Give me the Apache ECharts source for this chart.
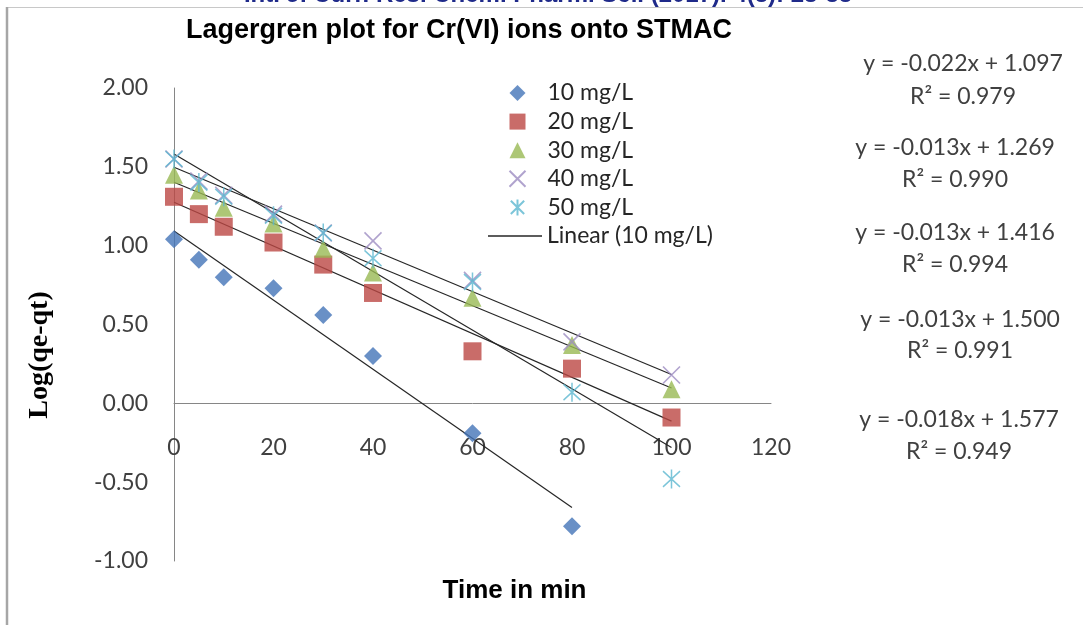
<!DOCTYPE html>
<html>
<head>
<meta charset="utf-8">
<script src="https://cdn.jsdelivr.net/npm/echarts@6/dist/echarts.min.js"></script>
<style>
html,body{margin:0;padding:0;background:#ffffff;}
#chart{width:1083px;height:625px;}
</style>
</head>
<body>
<div id="chart"></div>
<script>
// ---- data ----
const times = [0, 5, 10, 20, 30, 40, 60, 80, 100];
const seriesNames = ['10 mg/L', '20 mg/L', '30 mg/L', '40 mg/L', '50 mg/L'];
const conc10 = [1.04, 0.91, 0.80, 0.73, 0.56, 0.30, -0.19, -0.78];
const conc20 = [1.31, 1.20, 1.12, 1.02, 0.88, 0.70, 0.33, 0.22, -0.09];
const conc30 = [1.45, 1.35, 1.24, 1.14, 0.98, 0.83, 0.67, 0.37, 0.09];
const conc40 = [1.55, 1.41, 1.32, 1.20, 1.08, 1.03, 0.78, 0.39, 0.18];
const conc50 = [1.55, 1.40, 1.31, 1.19, 1.08, 0.92, 0.77, 0.07, -0.48];
const equationLabels = ['y = -0.022x + 1.097', 'y = -0.013x + 1.269', 'y = -0.013x + 1.416', 'y = -0.013x + 1.500', 'y = -0.018x + 1.577'];
const r2Labels = ['R² = 0.979', 'R² = 0.990', 'R² = 0.994', 'R² = 0.991', 'R² = 0.949'];
const trendLegendName = 'Linear (10 mg/L)';
const titleText = 'Lagergren plot for Cr(VI) ions onto STMAC';
const headerText = 'Int. J. Curr. Res. Chem. Pharm. Sci. (2017). 4(3): 28-33';
const xAxisTitle = 'Time in min';
const yAxisTitle = 'Log(qe-qt)';

// ---- styling / layout (kept separate from data) ----
const allValues = [conc10, conc20, conc30, conc40, conc50];
const markerStyles = [
  { symbol: 'diamond', size: 18, itemStyle: { color: '#4474B8' } },
  { symbol: 'rect', size: 18, itemStyle: { color: '#BC4744' } },
  { symbol: 'triangle', size: 18, itemStyle: { color: '#98B954' } },
  { symbol: 'path://M0,0L10,10M10,0L0,10', size: 17, itemStyle: { color: 'none', borderColor: '#9C8CC2', borderWidth: 1.6 } },
  { symbol: 'path://M0,1L10,11M10,1L0,11M5,0L5,12', size: [17, 19], itemStyle: { color: 'none', borderColor: '#5BB6D0', borderWidth: 1.6 } }
];
const eqLayout = [
  { x: 963, y1: 64, y2: 97 },
  { x: 955, y1: 148, y2: 180 },
  { x: 955, y1: 233, y2: 265 },
  { x: 960, y1: 320, y2: 351 },
  { x: 959, y1: 420, y2: 452 }
];
const bodyFont = 'Lato';
const bodySize = 23;

function linearFit(xs, ys) {
  const n = ys.length;
  let sx = 0, sy = 0;
  for (let i = 0; i < n; i++) { sx += xs[i]; sy += ys[i]; }
  const mx = sx / n, my = sy / n;
  let sxy = 0, sxx = 0;
  for (let i = 0; i < n; i++) { sxy += (xs[i] - mx) * (ys[i] - my); sxx += (xs[i] - mx) * (xs[i] - mx); }
  const m = sxy / sxx;
  return { m: m, b: my - m * mx, x0: xs[0], x1: xs[n - 1] };
}

const series = [];
allValues.forEach(function (vals, i) {
  const pts = vals.map(function (v, k) { return [times[k], v]; });
  series.push({
    name: seriesNames[i],
    type: 'scatter',
    data: pts,
    symbol: markerStyles[i].symbol,
    symbolSize: markerStyles[i].size,
    itemStyle: markerStyles[i].itemStyle,
    z: 3,
    silent: true
  });
});
allValues.forEach(function (vals, i) {
  const f = linearFit(times, vals);
  series.push({
    name: i === 0 ? trendLegendName : 'Linear (' + seriesNames[i] + ')',
    type: 'line',
    data: [[f.x0, f.b + f.m * f.x0], [f.x1, f.b + f.m * f.x1]],
    symbol: 'none',
    lineStyle: { color: '#262626', width: 1.2 },
    itemStyle: { color: '#262626' },
    z: 2,
    silent: true
  });
});

const graphics = [
  { type: 'line', shape: { x1: 8, y1: 7.5, x2: 1083, y2: 7.5 }, style: { stroke: '#c8c8c8', lineWidth: 1 } },
  { type: 'line', shape: { x1: 7, y1: 7, x2: 7, y2: 625 }, style: { stroke: '#a6a6a6', lineWidth: 2.5 } },
  { type: 'text', x: 548, y: 7, style: { text: headerText, align: 'center', verticalAlign: 'bottom', font: 'bold 24px "Liberation Sans"', fill: '#1F2A8A' } },
  { type: 'text', x: 459, y: 31, style: { text: titleText, align: 'center', verticalAlign: 'middle', font: 'bold 27px "Liberation Sans"', fill: '#000000' } },
  { type: 'text', x: 40, y: 355, rotation: Math.PI / 2, style: { text: yAxisTitle, align: 'center', verticalAlign: 'middle', font: 'bold 28px "Liberation Serif"', fill: '#000000' } }
];
equationLabels.forEach(function (t, i) {
  graphics.push({ type: 'text', x: eqLayout[i].x, y: eqLayout[i].y1, style: { text: t, align: 'center', verticalAlign: 'middle', font: bodySize + 'px ' + bodyFont, fill: '#404040' } });
  graphics.push({ type: 'text', x: eqLayout[i].x, y: eqLayout[i].y2, style: { text: r2Labels[i], align: 'center', verticalAlign: 'middle', font: bodySize + 'px ' + bodyFont, fill: '#404040' } });
});

const legendText = { fontFamily: bodyFont, fontSize: bodySize, color: '#262626', lineHeight: 23 };

const chart = echarts.init(document.getElementById('chart'), null, { renderer: 'canvas' });
chart.setOption({
  backgroundColor: '#ffffff',
  animation: false,
  grid: { left: 174, right: 312, top: 88, bottom: 64, containLabel: false, outerBoundsMode: 'none' },
  legend: [
    {
      data: seriesNames,
      orient: 'vertical',
      left: 507,
      top: 81.5,
      padding: 0,
      itemWidth: 16,
      itemHeight: 16,
      itemGap: 5.6,
      selectedMode: false,
      textStyle: Object.assign({ padding: [0, 0, 0, 17] }, legendText)
    },
    {
      data: [trendLegendName],
      orient: 'vertical',
      left: 488,
      top: 224.5,
      padding: 0,
      icon: 'rect',
      itemWidth: 54,
      itemHeight: 1.5,
      selectedMode: false,
      textStyle: legendText
    }
  ],
  xAxis: {
    type: 'value',
    min: 0, max: 120, interval: 20,
    axisLine: { show: true, onZero: true, lineStyle: { color: '#868686', width: 1 } },
    axisTick: { show: false },
    splitLine: { show: false },
    axisLabel: { margin: -125, fontFamily: bodyFont, fontSize: bodySize, color: '#404040' },
    name: xAxisTitle,
    nameLocation: 'middle',
    nameGap: 17,
    nameTextStyle: { fontFamily: 'Liberation Sans', fontWeight: 'bold', fontSize: 26, color: '#000000', verticalAlign: 'top', padding: [0, 0, 0, 84] }
  },
  yAxis: {
    type: 'value',
    min: -1, max: 2, interval: 0.5,
    axisLine: { show: true, lineStyle: { color: '#868686', width: 1 } },
    axisTick: { show: false },
    splitLine: { show: false },
    axisLabel: { margin: 26, fontFamily: bodyFont, fontSize: bodySize, color: '#404040', formatter: function (v) { return v.toFixed(2); } }
  },
  graphic: graphics,
  series: series
});
</script>
</body>
</html>
